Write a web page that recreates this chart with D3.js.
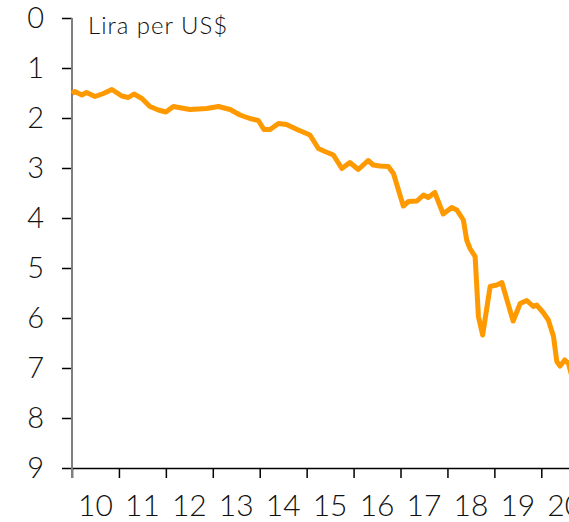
<!DOCTYPE html>
<html>
<head>
<meta charset="utf-8">
<script src="https://cdn.jsdelivr.net/npm/d3@7"></script>
<style>
  body { margin: 0; background: #fff; }
  svg { display: block; font-family: "Century Gothic", Lato, "DejaVu Sans", sans-serif; font-weight: 300; }
</style>
</head>
<body>
<div id="chart"></div>
<script>
// decimal year (2-digit) and lira per US$
const dates = [10.00, 10.06, 10.21, 10.31, 10.49, 10.67, 10.85, 11.06, 11.20, 11.32,
  11.49, 11.66, 11.84, 12.00, 12.16, 12.51, 12.87, 13.12, 13.37, 13.58,
  13.79, 13.97, 14.09, 14.22, 14.40, 14.57, 14.82, 15.07, 15.25, 15.39,
  15.57, 15.75, 15.92, 16.10, 16.31, 16.42, 16.56, 16.74, 16.85, 17.06,
  17.17, 17.35, 17.49, 17.59, 17.73, 17.91, 18.09, 18.20, 18.34, 18.41,
  18.48, 18.59, 18.66, 18.75, 18.91, 19.05, 19.16, 19.40, 19.55, 19.69,
  19.83, 19.90, 20.04, 20.15, 20.26, 20.33, 20.40, 20.50, 20.58, 20.66];
const lira = [1.51, 1.47, 1.54, 1.49, 1.57, 1.51, 1.43, 1.56, 1.59, 1.52,
  1.61, 1.77, 1.84, 1.88, 1.77, 1.83, 1.81, 1.77, 1.83, 1.94,
  2.01, 2.05, 2.23, 2.23, 2.11, 2.13, 2.24, 2.34, 2.61, 2.67,
  2.74, 3.01, 2.89, 3.03, 2.85, 2.94, 2.96, 2.97, 3.11, 3.76,
  3.67, 3.66, 3.54, 3.59, 3.49, 3.92, 3.79, 3.84, 4.04, 4.44,
  4.61, 4.77, 5.97, 6.34, 5.37, 5.34, 5.29, 6.06, 5.71, 5.65,
  5.77, 5.74, 5.89, 6.04, 6.37, 6.87, 6.96, 6.84, 6.91, 7.20];
const yearTicks = [10, 11, 12, 13, 14, 15, 16, 17, 18, 19, 20];
const valueTicks = [0, 1, 2, 3, 4, 5, 6, 7, 8, 9];
const unitLabel = "Lira per US$";

const width = 569, height = 522;
const fontStack = "\"Century Gothic\", Lato, \"DejaVu Sans\", sans-serif";

const x = d3.scaleLinear().domain([10, 21]).range([72, 72 + 11 * 46.93]);
const y = d3.scaleLinear().domain([0, 9]).range([18, 468]);

const svg = d3.select("#chart").append("svg")
    .attr("width", width)
    .attr("height", height);

// y axis (inverted: 0 at top)
const yAxis = svg.append("g")
    .attr("transform", `translate(${x(10)},0)`)
    .call(d3.axisLeft(y).tickValues(valueTicks).tickSize(10).tickSizeOuter(0).tickPadding(18));
yAxis.select(".domain").remove();
yAxis.selectAll(".tick line").attr("stroke", "#000").attr("stroke-width", 1.5);
yAxis.selectAll(".tick text")
    .attr("font-size", 29)
    .attr("font-family", fontStack)
    .attr("font-weight", 300)
    .attr("fill", "#111");

// x axis
const xAxis = svg.append("g")
    .attr("transform", `translate(0,${y(9)})`)
    .call(d3.axisBottom(x).tickValues(yearTicks).tickSize(10).tickSizeOuter(0).tickFormat(""));
xAxis.select(".domain").attr("stroke", "#000").attr("stroke-width", 1.5);
xAxis.selectAll(".tick line").attr("stroke", "#000").attr("stroke-width", 1.5);

svg.append("g").selectAll(".year-label")
    .data(yearTicks)
    .enter()
    .append("text")
    .attr("class", "year-label")
    .attr("x", d => x(d + 0.5))
    .attr("y", 516)
    .attr("text-anchor", "middle")
    .attr("font-size", 30)
    .attr("fill", "#111")
    .text(d => d);

// grey vertical axis line
svg.append("line")
    .attr("x1", x(10)).attr("x2", x(10))
    .attr("y1", y(0)).attr("y2", y(9) + 10)
    .attr("stroke", "#808080")
    .attr("stroke-width", 2);

svg.append("text")
    .attr("x", 88)
    .attr("y", 34)
    .attr("font-size", 24)
    .attr("letter-spacing", 1)
    .attr("fill", "#111")
    .text(unitLabel);

const line = d3.line()
    .x((d, i) => x(dates[i]))
    .y(d => y(d));

svg.append("path")
    .datum(lira)
    .attr("fill", "none")
    .attr("stroke", "#FF9900")
    .attr("stroke-width", 5)
    .attr("stroke-linejoin", "round")
    .attr("d", line);
</script>
</body>
</html>
